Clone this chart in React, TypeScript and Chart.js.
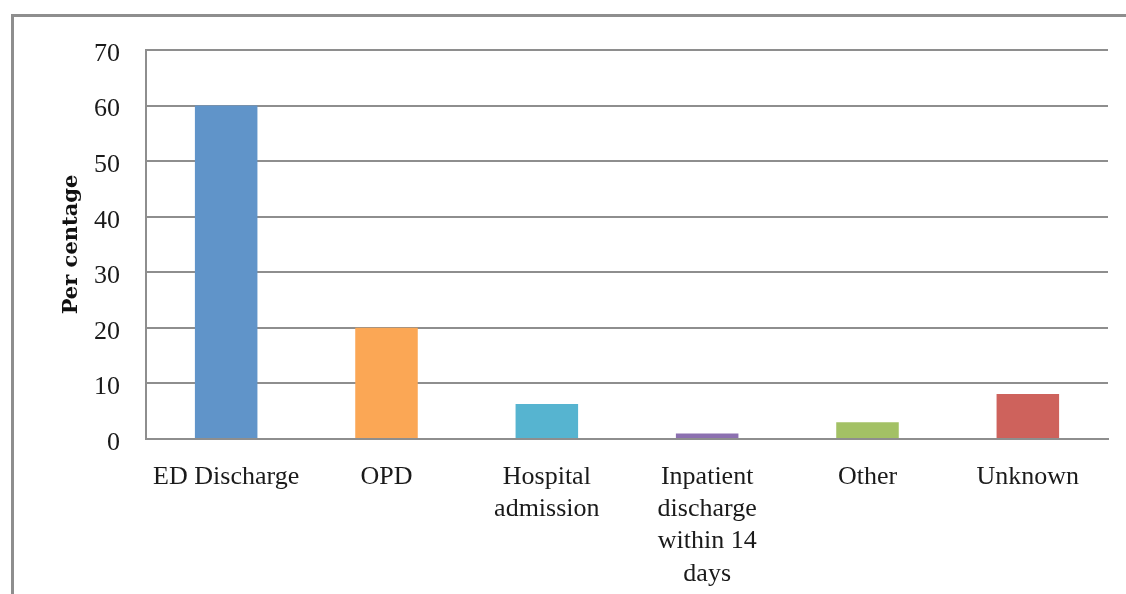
import React, { useEffect, useRef } from "react";
import { Chart, registerables } from "chart.js";

Chart.register(...registerables);

const categories: (string | string[])[] = [
  "ED Discharge",
  "OPD",
  ["Hospital", "admission"],
  ["Inpatient", "discharge", "within 14", "days"],
  "Other",
  "Unknown",
];
const values = [60, 20, 6.3, 1.0, 3.0, 8.1];
const barColors = ["#6094C9", "#FBA755", "#56B4D0", "#8C70B0", "#A3C165", "#CE625C"];
const yTitle = "Per centage";
const yMin = 0;
const yMax = 70;
const yStep = 10;

export default function App() {
  const ref = useRef<HTMLCanvasElement | null>(null);
  useEffect(() => {
    if (!ref.current) return;
    const font = "'Liberation Serif', serif";
    const chart = new Chart(ref.current, {
      type: "bar",
      data: {
        labels: categories,
        datasets: [
          {
            data: values,
            backgroundColor: barColors,
            borderWidth: 0,
            barPercentage: 0.39,
            categoryPercentage: 1,
          },
        ],
      },
      options: {
        animation: false,
        responsive: false,
        maintainAspectRatio: false,
        layout: { padding: { left: 55, top: 50, right: 18, bottom: 0 } },
        plugins: { legend: { display: false }, tooltip: { enabled: false } },
        scales: {
          x: {
            grid: { display: false },
            border: { display: true, color: "#8e8e8e", width: 2 },
            ticks: {
              color: "#1a1a1a",
              font: { family: font, size: 26, lineHeight: 1.24 },
              padding: 14,
              maxRotation: 0,
              autoSkip: false,
            },
            afterFit: (s: any) => {
              s.height = 155;
            },
          },
          y: {
            min: yMin,
            max: yMax,
            ticks: {
              stepSize: yStep,
              color: "#1a1a1a",
              font: { family: font, size: 26 },
              padding: 26,
              labelOffset: 4,
            },
            grid: { color: "#8e8e8e", lineWidth: 2, drawTicks: false },
            border: { display: true, color: "#8e8e8e", width: 2 },
            title: {
              display: true,
              text: yTitle,
              color: "#111",
              font: { family: "'DejaVu Serif', serif", size: 21, weight: "bold" },
              padding: { top: 4, bottom: 4 },
            },
            afterFit: (s: any) => {
              s.width = 91;
            },
          },
        },
      },
    });
    return () => chart.destroy();
  }, []);
  return (
    <div
      style={{
        position: "fixed",
        left: 0,
        top: 0,
        width: 1126,
        height: 594,
        overflow: "hidden",
        background: "#fff",
      }}
    >
      <div
        style={{
          position: "absolute",
          left: 11,
          top: 14,
          width: 1300,
          height: 800,
          border: "3px solid #8e8e8e",
        }}
      />
      <canvas
        ref={ref}
        width={1126}
        height={594}
        style={{ position: "absolute", left: 0, top: 0 }}
      />
    </div>
  );
}
